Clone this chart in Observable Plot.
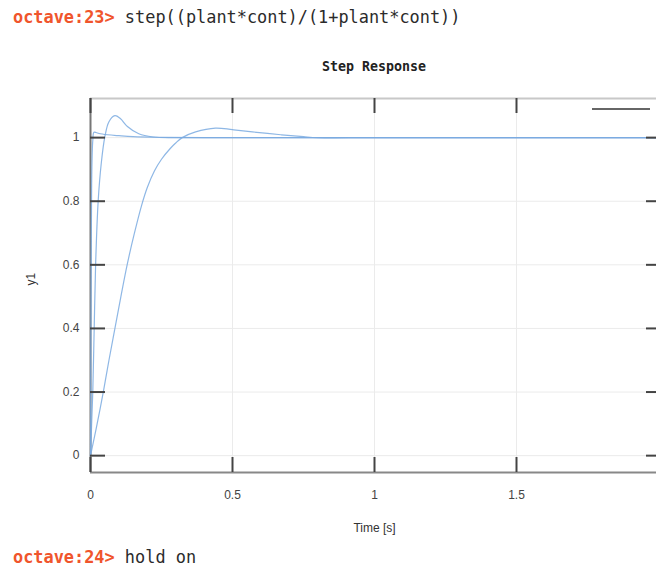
<!DOCTYPE html>
<html>
<head>
<meta charset="utf-8">
<script src="https://cdn.jsdelivr.net/npm/d3@7"></script>
<script src="https://cdn.jsdelivr.net/npm/@observablehq/plot@0.6"></script>
<style>
  html, body { margin: 0; padding: 0; background: #fff; width: 656px; height: 568px; overflow: hidden; }
  #wrap { position: relative; width: 656px; height: 568px; overflow: hidden; }
  .prompt { position: absolute; left: 13px; font-family: "DejaVu Sans Mono", monospace; font-size: 16.9px; white-space: pre; color: #2b2b2b; line-height: 20px; }
  .prompt .p { color: #f0552c; font-weight: bold; }
  #title { position: absolute; left: 90px; width: 568px; top: 58px; text-align: center; font-family: "DejaVu Sans Mono", monospace; font-weight: bold; font-size: 13.3px; color: #222; line-height: 18px; }
  #legend { position: absolute; left: 592px; top: 108px; width: 58px; height: 0; border-top: 2px solid #666; }
  #chart { position: absolute; left: 0; top: 0; width: 660px; }
  #chart svg { max-width: none !important; }
</style>
</head>
<body>
<div id="wrap">
  <div class="prompt" id="p1" style="top:7px"><span class="p">octave:23&gt;</span> step((plant*cont)/(1+plant*cont))</div>
  <div id="title">Step Response</div>
  <div id="chart"></div>
  <div id="legend"></div>
  <div class="prompt" id="p2" style="top:547px"><span class="p">octave:24&gt;</span> hold on</div>
</div>
<script>
// --- data ---
const xTicks = [0, 0.5, 1, 1.5];
const yTicks = [0, 0.2, 0.4, 0.6, 0.8, 1];
const xDomain = [0, 2];
const yDomain = [-0.053, 1.123];
const xLabel = "Time [s]";
const yLabel = "y1";

// fast response
const t1 = [0, 0.001, 0.002, 0.003, 0.004, 0.006, 0.008, 0.012, 0.02, 0.03, 0.06, 0.1, 0.15, 0.25, 0.4, 0.6, 0.8, 1.2, 1.6, 2.0];
const y1 = [0, 0.25, 0.5, 0.7, 0.85, 0.95, 0.99, 1.017, 1.016, 1.013, 1.009, 1.006, 1.003, 1.001, 1.0, 1.0, 1.0, 1.0, 1.0, 1.0];

// medium response
const t2 = [0, 0.002, 0.004, 0.008, 0.013, 0.018, 0.027, 0.038, 0.05, 0.065, 0.086, 0.105, 0.13, 0.17, 0.22, 0.3, 0.5, 1.0, 1.5, 2.0];
const y2 = [0, 0.04, 0.1, 0.2, 0.4, 0.6, 0.8, 0.92, 1.0, 1.05, 1.069, 1.06, 1.035, 1.012, 1.002, 1.0, 1.0, 1.0, 1.0, 1.0];

// slow response
const t3 = [0, 0.02, 0.045, 0.065, 0.086, 0.107, 0.129, 0.154, 0.18, 0.2, 0.225, 0.25, 0.28, 0.3, 0.323, 0.37, 0.44, 0.5, 0.57, 0.67, 0.75, 0.8, 1.0, 1.5, 2.0];
const y3 = [0, 0.085, 0.2, 0.3, 0.4, 0.5, 0.6, 0.697, 0.787, 0.843, 0.895, 0.932, 0.965, 0.983, 1.0, 1.018, 1.03, 1.025, 1.018, 1.009, 1.003, 1.0, 1.0, 1.0, 1.0];

const series = [
  ...t1.map((t, i) => ({t, y: y1[i], s: "a"})),
  ...t2.map((t, i) => ({t, y: y2[i], s: "b"})),
  ...t3.map((t, i) => ({t, y: y3[i], s: "c"}))
];

const W = 660, H = 568, mt = 98, mb = 96, ml = 90, mr = 2;
const iw = W - ml - mr, ih = H - mt - mb;
const tick = 15;

const chart = Plot.plot({
  width: W,
  height: H,
  marginTop: mt,
  marginBottom: mb,
  marginLeft: ml,
  marginRight: mr,
  style: {fontFamily: "'Liberation Sans', Arial, sans-serif", fontSize: "12px", color: "#444", background: "transparent", overflow: "visible", maxWidth: "none"},
  x: {domain: xDomain},
  y: {domain: yDomain},
  marks: [
    // grid
    Plot.ruleX(xTicks, {x: d => d, stroke: "#ebebeb", strokeWidth: 1}),
    Plot.ruleY(yTicks, {y: d => d, stroke: "#ebebeb", strokeWidth: 1}),
    // frame
    Plot.ruleY([yDomain[1]], {y: d => d, stroke: "#c8c8c8", strokeWidth: 2}),
    Plot.ruleY([yDomain[0]], {y: d => d, stroke: "#888", strokeWidth: 2}),
    Plot.ruleX([xDomain[0]], {x: d => d, stroke: "#777", strokeWidth: 2}),
    // curves
    Plot.line(series, {x: "t", y: "y", z: "s", stroke: "#7aaae0", strokeWidth: 1.2, strokeOpacity: 0.85, curve: "catmull-rom"}),
    // inward ticks
    Plot.ruleX(xTicks, {x: d => d, insetBottom: ih - tick, stroke: "#444", strokeWidth: 2}),
    Plot.ruleX(xTicks, {x: d => d, insetTop: ih - tick, stroke: "#444", strokeWidth: 2}),
    Plot.ruleY(yTicks, {y: d => d, insetRight: iw - tick, stroke: "#444", strokeWidth: 2}),
    Plot.ruleY(yTicks, {y: d => d, insetLeft: iw - tick + 3, stroke: "#444", strokeWidth: 2}),
    // axes labels
    Plot.axisX(xTicks, {anchor: "bottom", tickSize: 0, tickPadding: 18, tickFormat: d => String(d), label: null}),
    Plot.axisY(yTicks, {anchor: "left", tickSize: 0, tickPadding: 11, tickFormat: d => String(d), label: null}),
    Plot.text([xLabel], {text: d => d, frameAnchor: "bottom", dy: 59, fill: "#333"}),
    Plot.text([yLabel], {text: d => d, frameAnchor: "left", dx: -59, rotate: -90, fill: "#333"})
  ]
});
document.getElementById("chart").appendChild(chart);
</script>
</body>
</html>
